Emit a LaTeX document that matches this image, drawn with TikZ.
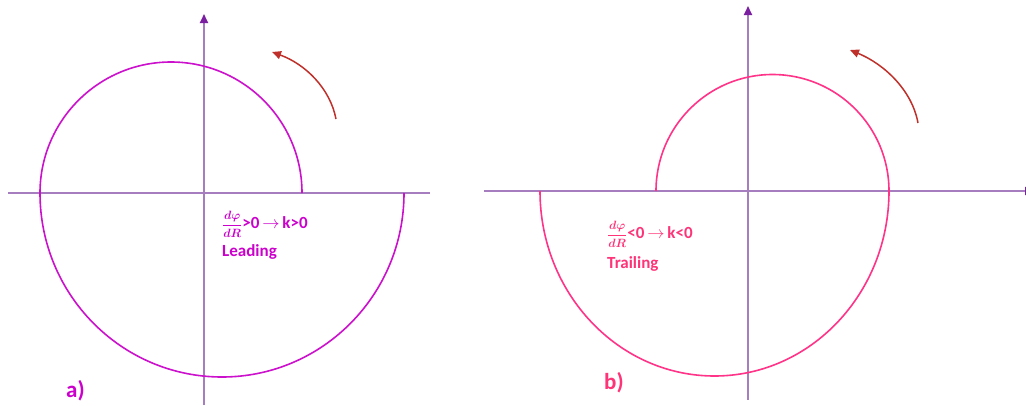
\documentclass[tikz,border=0pt]{standalone}
\usepackage{fontspec}
\setmainfont{Carlito}
\usetikzlibrary{arrows.meta}
\definecolor{axiscol}{HTML}{A67DBE}
\definecolor{axistip}{HTML}{7A1FA0}
\definecolor{spirala}{HTML}{CC11CC}
\definecolor{spiralb}{HTML}{FF3388}
\definecolor{rotarrow}{HTML}{C0302A}
\definecolor{texta}{HTML}{CC00CC}
\definecolor{textb}{HTML}{FF3377}
\newcommand{\dphidr}{{\fontsize{12.5}{12.5}\selectfont\boldmath$\displaystyle\frac{d\varphi}{dR}$}}
\tikzset{
  axisline/.style={draw=axiscol, line width=1.8pt},
  axisarrow/.style={axisline, -{Triangle[length=9pt,width=8pt,fill=axistip,color=axistip]}},
  spiralA/.style={draw=spirala, line width=1.6pt},
  spiralB/.style={draw=spiralb, line width=1.6pt},
  rotation/.style={draw=rotarrow, line width=1.5pt, -{Triangle[length=9pt,width=8pt]}},
  lbl/.style={inner sep=0pt, font=\fontsize{17}{20}\selectfont\bfseries},
  panel/.style={inner sep=0pt, font=\fontsize{23}{26}\selectfont\bfseries},
}
\begin{document}
\begin{tikzpicture}[x=1pt,y=-1pt]
\useasboundingbox (0,0) rectangle (1026,405);
\clip (0,0) rectangle (1026,405);
% ---------- panel a ----------
\coordinate (aL) at (8,193);
\coordinate (aR) at (430,193);
\coordinate (aB) at (204,405);
\coordinate (aT) at (204,14);
\draw[axisline] (aL) -- (aR);
\draw[axisarrow] (aB) -- (aT);
\coordinate (aS) at (302,193);
\draw[spiralA] (aS) arc[start angle=0, end angle=-180, radius=131]
  arc[start angle=180, end angle=0, x radius=182, y radius=184];
\coordinate (aR1) at (336,119);
\coordinate (aR2) at (272,52);
\draw[rotation] (aR1) .. controls (330,88) and (305,64) .. (aR2);
\node[lbl, text=texta, anchor=base west] (aeq) at (222,228) {\dphidr>0\,$\rightarrow$\,k>0};
\node[lbl, text=texta, anchor=base west] (alead) at (222,256) {Leading};
\node[panel, text=texta, anchor=base west] (alab) at (66,397) {a)};
% ---------- panel b ----------
\coordinate (bL) at (484,191);
\coordinate (bR) at (1034,191);
\coordinate (bB) at (748,400);
\coordinate (bT) at (748,6);
\draw[axisarrow] (bL) -- (bR);
\draw[axisarrow] (bB) -- (bT);
\coordinate (bS) at (656,191);
\draw[spiralB] (bS) arc[start angle=180, end angle=360, radius=116.5]
  arc[start angle=0, end angle=180, x radius=174.5, y radius=185];
\coordinate (bR1) at (918,123);
\coordinate (bR2) at (850,50);
\draw[rotation] (bR1) .. controls (912,90) and (884,64) .. (bR2);
\node[lbl, text=textb, anchor=base west] (beq) at (607,238) {\dphidr<0\,$\rightarrow$\,k<0};
\node[lbl, text=textb, anchor=base west] (btrail) at (607,268) {Trailing};
\node[panel, text=textb, anchor=base west] (blab) at (604,389) {b)};
\end{tikzpicture}
\end{document}
